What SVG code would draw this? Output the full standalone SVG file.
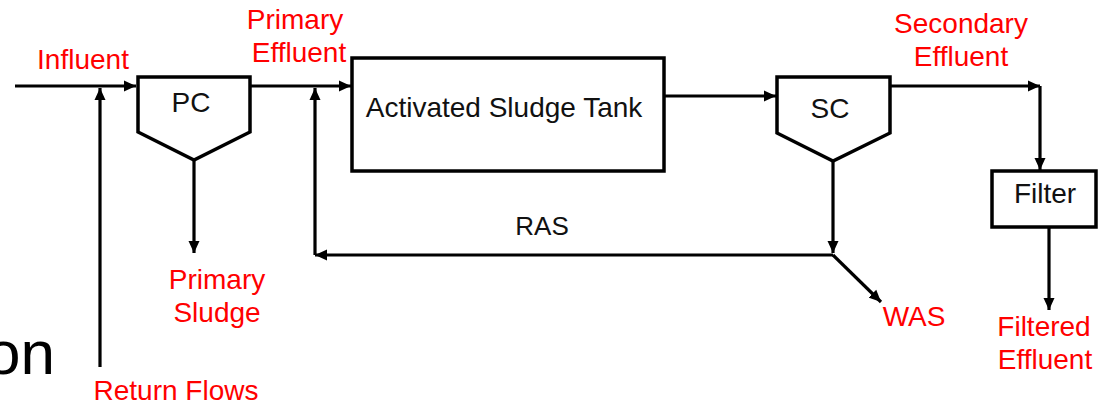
<svg xmlns="http://www.w3.org/2000/svg" width="1099" height="406" viewBox="0 0 1099 406">
<style>
.shape{fill:#fff;stroke:#000;stroke-width:3.5;stroke-linejoin:miter}
.c{fill:none;stroke:#000;stroke-width:3.2}
.lbl{font-family:"Liberation Sans",Arial,sans-serif;font-size:28px;fill:#ff0000;text-anchor:middle}
.txt{font-family:"Liberation Sans",Arial,sans-serif;font-size:28px;fill:#111;text-anchor:middle}
</style>
<defs>
<marker id="ah" markerUnits="userSpaceOnUse" markerWidth="12" markerHeight="12" viewBox="0 0 12 12" refX="12" refY="6" orient="auto">
<path d="M0,0.5 L12,6 L0,11.5 Z" fill="#000"/>
</marker>
</defs>
<rect width="1099" height="406" fill="#fff"/>
<text x="-14" y="374" font-family="'Liberation Sans',Arial,sans-serif" font-size="62" fill="#000">on</text>
<g id="connectors">
<path class="c" d="M15,86 H136" marker-end="url(#ah)"/>
<path class="c" d="M100,367 V88" marker-end="url(#ah)"/>
<path class="c" d="M250,86 H351" marker-end="url(#ah)"/>
<path class="c" d="M315,255 V88" marker-end="url(#ah)"/>
<path class="c" d="M194,160 V253" marker-end="url(#ah)"/>
<path class="c" d="M664,96 H776" marker-end="url(#ah)"/>
<path class="c" d="M833,161 V253" marker-end="url(#ah)"/>
<path class="c" d="M833,255 H315" marker-end="url(#ah)"/>
<path class="c" d="M833,255 L881,302" marker-end="url(#ah)"/>
<path class="c" d="M890,86 H1040" marker-end="url(#ah)"/>
<path class="c" d="M1040,86 V170" marker-end="url(#ah)"/>
<path class="c" d="M1049,227 V310" marker-end="url(#ah)"/>
</g>
<g id="pc">
<path class="shape" d="M138,77 H250 V132 L194,160 L138,132 Z"/>
<text class="txt" x="191" y="112">PC</text>
</g>
<g id="tank">
<rect class="shape" x="352" y="58" width="312" height="113"/>
<text class="txt" x="504" y="117">Activated Sludge Tank</text>
</g>
<g id="sc">
<path class="shape" d="M777,77 H890 V133 L833,161 L777,133 Z"/>
<text class="txt" x="830" y="118">SC</text>
</g>
<g id="filter">
<rect class="shape" x="992" y="171" width="104" height="56"/>
<text class="txt" x="1045" y="203">Filter</text>
</g>
<g id="labels">
<text class="lbl" x="83" y="69">Influent</text>
<text class="lbl" x="295" y="29">Primary</text>
<text class="lbl" x="299" y="62">Effluent</text>
<text class="lbl" x="217" y="289">Primary</text>
<text class="lbl" x="217" y="322">Sludge</text>
<text class="lbl" x="176" y="400">Return Flows</text>
<text class="txt" x="542" y="235" style="font-size:26px">RAS</text>
<text class="lbl" x="961" y="33">Secondary</text>
<text class="lbl" x="961" y="66">Effluent</text>
<text class="lbl" x="914" y="326">WAS</text>
<text class="lbl" x="1044" y="336">Filtered</text>
<text class="lbl" x="1045" y="369">Effluent</text>
</g>
</svg>
